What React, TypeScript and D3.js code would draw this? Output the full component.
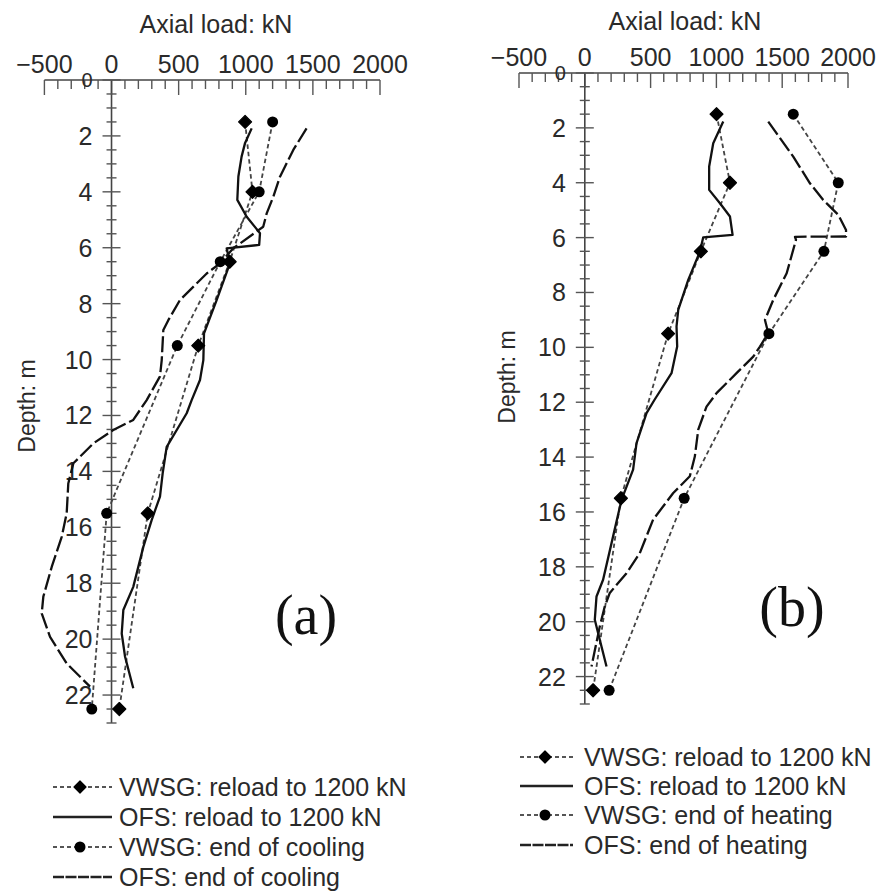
import React from 'react';
import * as d3 from 'd3';

// ---------- data (kN vs depth m) ----------
const VWSG_DEPTHS = [1.5, 4, 6.5, 9.5, 15.5, 22.5];

// Panel (a)
const A_VWSG_RELOAD = [995, 1050, 880, 646, 270, 58];
const A_VWSG_COOLING = [1200, 1100, 810, 490, -36, -147];
const A_OFS_RELOAD_DEPTH = [1.73, 2.25, 2.74, 3.45, 4.29, 4.89, 5.48, 5.9, 6.02, 6.56, 7.87, 9.06, 10.02, 10.73, 11.45, 11.92, 13.12, 14.07, 14.9, 15.74, 16.7, 18.13, 18.96, 19.8, 20.63, 21.76];
const A_OFS_RELOAD_LOAD = [1044, 995, 969, 945, 937, 1007, 1106, 1100, 858, 882, 783, 689, 684, 659, 597, 560, 411, 381, 361, 299, 237, 162, 88, 76, 101, 162];
const A_OFS_COOLING_DEPTH = [1.73, 2.5, 3.46, 4.18, 4.77, 5.25, 6.02, 6.56, 6.92, 7.87, 8.59, 8.94, 10.02, 10.6, 11.45, 12.16, 12.52, 13.0, 13.71, 14.43, 15.5, 16.34, 17.41, 18.48, 19.08, 19.92, 20.87, 21.7];
const A_OFS_COOLING_LOAD = [1453, 1354, 1255, 1205, 1156, 1130, 907, 808, 709, 510, 423, 386, 374, 361, 262, 162, 13, -136, -284, -322, -334, -371, -445, -508, -520, -458, -334, -160];

// Panel (b)
const B_VWSG_RELOAD = [1001, 1103, 882, 633, 274, 63];
const B_VWSG_HEATING = [1584, 1926, 1817, 1399, 755, 185];
const B_OFS_RELOAD_DEPTH = [1.77, 2.56, 3.41, 4.26, 4.75, 5.23, 5.9, 5.99, 6.51, 7.54, 8.63, 9.24, 9.97, 10.94, 11.91, 12.4, 13.49, 14.46, 15.56, 16.89, 18.47, 19.08, 19.93, 20.41, 21.63];
const B_OFS_RELOAD_LOAD = [1052, 976, 945, 945, 1027, 1103, 1123, 900, 875, 786, 710, 697, 702, 659, 530, 469, 393, 367, 279, 215, 139, 89, 76, 101, 165];
const B_OFS_HEATING_DEPTH = [1.77, 3.05, 4.02, 4.63, 5.17, 5.72, 5.96, 5.97, 6.08, 7.3, 8.27, 9.0, 9.48, 9.97, 10.34, 10.94, 11.67, 12.16, 13.0, 13.98, 14.7, 15.31, 16.28, 17.5, 18.23, 18.95, 19.44, 20.17, 21.63];
const B_OFS_HEATING_LOAD = [1394, 1584, 1711, 1812, 1926, 1985, 1985, 1597, 1605, 1534, 1432, 1369, 1394, 1331, 1280, 1153, 1001, 925, 862, 836, 798, 672, 519, 418, 317, 190, 152, 114, 51];

const X_TICK_LABELS = [-500, 0, 500, 1000, 1500, 2000];
const DEPTH_TICK_LABELS = [0, 2, 4, 6, 8, 10, 12, 14, 16, 18, 20, 22];
const LEGEND_A = ['VWSG: reload to 1200 kN', 'OFS: reload to 1200 kN', 'VWSG: end of cooling', 'OFS: end of cooling'];
const LEGEND_B = ['VWSG: reload to 1200 kN', 'OFS: reload to 1200 kN', 'VWSG: end of heating', 'OFS: end of heating'];

const SANS = '"Liberation Sans", Arial, sans-serif';
const TEXT = '#2a2a2a';
const VWSG_DASH = '4.5,3';
const OFS_LONG_DASH = '16,4';

type PanelCfg = {
  xRange: [number, number];
  yRange: [number, number];
  titleX: number;
  titleY: number;
  depthLabel: [number, number];
  tag: string;
  tagPos: [number, number];
  legendX: [number, number, number, number]; // line start, marker, line end, text
  legendY: number[];
  legendLabels: string[];
  vwsg1: number[];
  vwsg2: number[];
  ofs1: [number[], number[]];
  ofs2: [number[], number[]];
};

function Diamond({ cx, cy, s = 6.5 }: { cx: number; cy: number; s?: number }) {
  return <path d={`M${cx},${cy - s}L${cx + s},${cy}L${cx},${cy + s}L${cx - s},${cy}Z`} fill="#000" stroke="#000" strokeWidth={1.2} strokeLinejoin="round" />;
}
function Dot({ cx, cy }: { cx: number; cy: number }) {
  return <circle cx={cx} cy={cy} r={5.5} fill="#000" />;
}

function Panel({ cfg }: { cfg: PanelCfg }) {
  const x = d3.scaleLinear().domain([-500, 2000]).range(cfg.xRange);
  const y = d3.scaleLinear().domain([0, 23]).range(cfg.yRange);
  const line = d3
    .line<[number, number]>()
    .x((d) => x(d[0]))
    .y((d) => y(d[1]))
    .curve(d3.curveLinear);
  const zip = (loads: number[], depths: number[]) => loads.map((v, i) => [v, depths[i]] as [number, number]);

  const x0 = x(0);
  const axisY = y(0);
  const xTicks = d3.range(-500, 2001, 100);
  const yTicks = d3.range(0, 23.01, 0.5);

  const [lx0, lm, lx1, lt] = cfg.legendX;

  return (
    <g>
      <text x={cfg.titleX} y={cfg.titleY} textAnchor="middle" fontFamily={SANS} fontSize={25} fill={TEXT}>
        Axial load: kN
      </text>
      <line x1={x(-500)} x2={x(2000)} y1={axisY} y2={axisY} stroke="#444" strokeWidth={1.6} />
      {xTicks.map((t) => (
        <line key={'xt' + t} x1={x(t)} x2={x(t)} y1={axisY} y2={axisY + (t % 500 === 0 ? 15 : 9)} stroke="#555" strokeWidth={1.4} />
      ))}
      {X_TICK_LABELS.map((t) => (
        <text key={'xl' + t} x={x(t)} y={axisY - 7} textAnchor="middle" fontFamily={SANS} fontSize={25} fill={TEXT}>
          {t < 0 ? '\u2212' + Math.abs(t) : t}
        </text>
      ))}
      <line x1={x0} x2={x0} y1={y(0)} y2={y(23)} stroke="#444" strokeWidth={1.6} />
      {yTicks.map((t) => {
        const major = Math.abs(t % 2) < 1e-6;
        const h = major ? 9 : 5;
        return <line key={'yt' + t} x1={x0 - h} x2={x0 + h} y1={y(t)} y2={y(t)} stroke="#555" strokeWidth={1.4} />;
      })}
      {DEPTH_TICK_LABELS.map((t) => (
        <text key={'yl' + t} x={x0 - 19} y={y(t)} dy="0.36em" textAnchor="end" fontFamily={SANS} fontSize={t === 0 ? 20 : 25} fill={TEXT}>
          {t}
        </text>
      ))}
      <text
        transform={`translate(${cfg.depthLabel[0]},${cfg.depthLabel[1]}) rotate(-90)`}
        textAnchor="middle"
        dy="0.35em"
        fontFamily={SANS}
        fontSize={23}
        fill={TEXT}
      >
        Depth: m
      </text>

      <path d={line(zip(cfg.vwsg1, VWSG_DEPTHS)) || ''} fill="none" stroke="#444" strokeWidth={1.8} strokeDasharray={VWSG_DASH} />
      <path d={line(zip(cfg.vwsg2, VWSG_DEPTHS)) || ''} fill="none" stroke="#444" strokeWidth={1.8} strokeDasharray={VWSG_DASH} />
      <path d={line(zip(cfg.ofs1[1], cfg.ofs1[0])) || ''} fill="none" stroke="#111" strokeWidth={2.3} strokeLinejoin="round" />
      <path d={line(zip(cfg.ofs2[1], cfg.ofs2[0])) || ''} fill="none" stroke="#111" strokeWidth={2.3} strokeDasharray={OFS_LONG_DASH} strokeLinejoin="round" />
      {cfg.vwsg1.map((v, i) => (
        <Diamond key={'d' + i} cx={x(v)} cy={y(VWSG_DEPTHS[i])} />
      ))}
      {cfg.vwsg2.map((v, i) => (
        <Dot key={'c' + i} cx={x(v)} cy={y(VWSG_DEPTHS[i])} />
      ))}

      <text x={cfg.tagPos[0]} y={cfg.tagPos[1]} textAnchor="middle" fontFamily='"Liberation Serif", "DejaVu Serif", serif' fontSize={56} fill="#111">
        {cfg.tag}
      </text>

      {cfg.legendLabels.map((lab, i) => {
        const ly = cfg.legendY[i];
        const isVWSG = i % 2 === 0;
        return (
          <g key={'lg' + i}>
            {isVWSG ? (
              <>
                <line x1={lx0} x2={lx1} y1={ly} y2={ly} stroke="#555" strokeWidth={2} strokeDasharray="4,3" />
                {i === 0 ? <Diamond cx={lm} cy={ly} s={6} /> : <Dot cx={lm} cy={ly} />}
              </>
            ) : (
              <line x1={lx0} x2={lx1} y1={ly} y2={ly} stroke="#222" strokeWidth={2.6} strokeDasharray={i === 3 ? '11,1.5' : undefined} />
            )}
            <text x={lt} y={ly} dy="0.36em" fontFamily={SANS} fontSize={25} fill={TEXT}>
              {lab}
            </text>
          </g>
        );
      })}
    </g>
  );
}

const PANEL_A: PanelCfg = {
  xRange: [44.4, 380],
  yRange: [80, 723],
  titleX: 216,
  titleY: 33,
  depthLabel: [27, 406],
  tag: '(a)',
  tagPos: [306, 634],
  legendX: [53, 80, 112, 119],
  legendY: [787, 817, 847, 877],
  legendLabels: LEGEND_A,
  vwsg1: A_VWSG_RELOAD,
  vwsg2: A_VWSG_COOLING,
  ofs1: [A_OFS_RELOAD_DEPTH, A_OFS_RELOAD_LOAD],
  ofs2: [A_OFS_COOLING_DEPTH, A_OFS_COOLING_LOAD],
};

const PANEL_B: PanelCfg = {
  xRange: [519, 848],
  yRange: [73, 704],
  titleX: 685,
  titleY: 30,
  depthLabel: [507, 377],
  tag: '(b)',
  tagPos: [792, 626],
  legendX: [520, 545, 573, 584],
  legendY: [757, 786, 815, 845],
  legendLabels: LEGEND_B,
  vwsg1: B_VWSG_RELOAD,
  vwsg2: B_VWSG_HEATING,
  ofs1: [B_OFS_RELOAD_DEPTH, B_OFS_RELOAD_LOAD],
  ofs2: [B_OFS_HEATING_DEPTH, B_OFS_HEATING_LOAD],
};

export default function App() {
  return (
    <svg width={880} height={894} viewBox="0 0 880 894" style={{ position: 'absolute', left: 0, top: 0, background: '#fff' }}>
      <rect width={880} height={894} fill="#fff" />
      <Panel cfg={PANEL_A} />
      <Panel cfg={PANEL_B} />
    </svg>
  );
}
